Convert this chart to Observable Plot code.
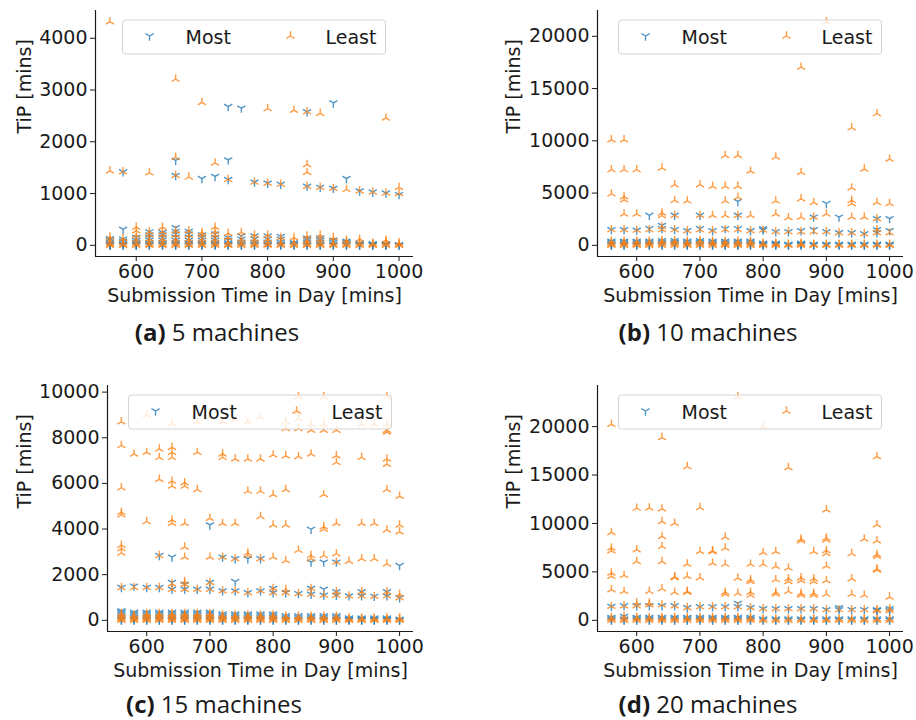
<!DOCTYPE html>
<html>
<head>
<meta charset="utf-8">
<script src="https://cdn.jsdelivr.net/npm/d3@7"></script>
<script src="https://cdn.jsdelivr.net/npm/@observablehq/plot@0.6"></script>
<style>
  body { margin: 0; background: #fff; }
  #fig { position: relative; width: 916px; height: 720px; overflow: hidden; }
  .panel { position: absolute; }
  .cap {
    position: absolute; font-family: "Open Sans", "Noto Sans", sans-serif; font-size: 24px; line-height: 1;
    color: #1a1a1a; transform: translate(-50%, -50%); white-space: nowrap;
  }
  .cap b { font-weight: 700; }
</style>
</head>
<body>
<div id="fig"></div>
<script>
// Submission times (minutes into the day) shared by every panel
const xs = [560, 580, 600, 620, 640, 660, 680, 700, 720, 740, 760, 780, 800,
            820, 840, 860, 880, 900, 920, 940, 960, 980, 1000];

// TiP values per submission time, one list per x above
const most5 = [
  [0, 10, 30, 60, 100, 130], [0, 15, 40, 80, 120, 310, 1420], [0, 10, 30, 60, 100, 150],
  [0, 20, 50, 100, 150, 200, 260], [0, 20, 50, 100, 150, 200, 250],
  [0, 20, 50, 100, 160, 220, 270, 340, 1350, 1640], [0, 20, 50, 100, 160, 220, 270],
  [0, 20, 50, 100, 150, 200, 1290], [0, 20, 50, 100, 150, 220, 1330],
  [0, 20, 50, 100, 150, 1270, 1650, 2680], [0, 20, 60, 120, 180, 2650], [0, 20, 60, 120, 180, 1220],
  [0, 20, 60, 120, 180, 1200], [0, 20, 60, 120, 170, 1180], [0, 20, 50],
  [0, 20, 60, 100, 140, 1140, 2580], [0, 20, 60, 100, 140, 1120], [0, 20, 60, 100, 1100, 2750],
  [0, 20, 50, 80, 1290], [0, 20, 40, 1050], [0, 15, 30, 1030], [0, 15, 30, 1010], [0, 10, 980]
];
const least5 = [
  [0, 20, 50, 100, 160, 1440, 4320], [0, 20, 60, 130, 1420], [0, 20, 60, 120, 200, 280, 350],
  [0, 20, 60, 120, 200, 260, 1400], [0, 20, 60, 120, 200, 260, 350],
  [0, 20, 60, 120, 200, 280, 1350, 1700, 3210], [0, 20, 60, 120, 200, 280, 1320],
  [0, 20, 60, 120, 200, 250, 2760], [0, 20, 60, 120, 200, 270, 350, 1590],
  [0, 20, 60, 150, 230, 1270], [0, 20, 60, 120, 250], [0, 20, 60, 120, 200, 1220],
  [0, 20, 60, 120, 200, 1200, 2640], [0, 20, 60, 150, 1180], [0, 20, 60, 150, 2610],
  [0, 20, 60, 100, 180, 1140, 1410, 1560, 2580], [0, 20, 60, 120, 200, 1120, 2550],
  [0, 20, 60, 150, 1100], [0, 20, 60, 100, 1080], [0, 20, 60, 120, 1050], [0, 20, 40, 1030],
  [0, 20, 60, 100, 1010, 2460], [0, 20, 50, 1000, 1120]
];

const most10 = [
  [0, 100, 250, 400, 1500], [0, 100, 250, 400, 1500], [0, 100, 250, 400, 1450], [0, 100, 250, 400, 1600, 2870],
  [0, 150, 300, 450, 1600, 1900], [0, 150, 300, 450, 1500, 2870], [0, 100, 250, 400, 1400],
  [0, 150, 300, 450, 1600, 2870], [0, 100, 250, 400, 1400], [0, 100, 250, 400, 1600],
  [0, 100, 250, 400, 1600, 2870, 4200], [0, 100, 250, 400, 1400], [0, 100, 200, 1450, 1600],
  [0, 100, 200, 1300], [0, 100, 1300], [0, 100, 200, 1400], [0, 100, 1500, 2700], [0, 100, 1300, 4000],
  [0, 100, 1200, 2700], [0, 100, 1200], [0, 100, 1100], [0, 100, 1200, 1500, 2550], [0, 100, 1400, 2550]
];
const least10 = [
  [0, 100, 250, 400, 1500, 4920, 7240, 10100], [0, 100, 250, 400, 1500, 3000, 4350, 4650, 7240, 10100],
  [0, 100, 250, 400, 1450, 3000, 7240], [0, 100, 250, 400, 1500], [0, 150, 300, 450, 1500, 1800, 2850, 3100, 7400],
  [0, 150, 300, 450, 1500, 2870, 4300, 5800], [0, 100, 250, 400, 1400, 4250], [0, 150, 300, 450, 1500, 2870, 5800],
  [0, 100, 250, 400, 1400, 2870, 5650], [0, 100, 250, 400, 1500, 2870, 4250, 5650, 8600],
  [0, 100, 250, 400, 1500, 2870, 4600, 5650, 8600], [0, 100, 250, 400, 1400, 2870, 7100], [0, 100, 200, 1450],
  [0, 100, 200, 1300, 3000, 4250, 8450], [0, 100, 1300, 2650], [0, 100, 200, 1300, 2700, 4450, 6980, 17050],
  [0, 100, 1300, 2700, 4100], [0, 100, 1300, 3000, 21400], [0, 100, 1200],
  [0, 100, 1200, 2700, 4000, 4300, 5500, 11250], [0, 100, 1100, 2700, 7300],
  [0, 100, 1200, 1500, 2550, 4100, 12600], [0, 100, 1200, 4000, 8250]
];

const most15 = [
  [0, 60, 130, 200, 280, 350, 420, 1440], [0, 60, 130, 200, 280, 350, 1500], [0, 60, 130, 200, 280, 350, 1440],
  [0, 60, 130, 200, 280, 350, 1440, 2840], [0, 60, 130, 200, 280, 350, 1360, 1660, 2770],
  [0, 60, 130, 200, 280, 350, 1360, 1580], [0, 60, 130, 200, 280, 350, 1360],
  [0, 60, 130, 200, 280, 350, 1360, 1660, 4180], [0, 60, 130, 200, 280, 1290, 2770],
  [0, 60, 130, 200, 280, 1290, 1700, 2700], [0, 60, 130, 200, 280, 1210, 2700], [0, 60, 130, 200, 280, 1290, 2700],
  [0, 60, 130, 200, 280, 1210, 1400], [0, 60, 130, 200, 1210], [0, 60, 130, 200, 1170],
  [0, 60, 130, 200, 1140, 1400, 2550, 3990], [0, 60, 130, 200, 1100, 1360, 2550], [0, 60, 130, 200, 1100, 1250, 2550],
  [0, 50, 100, 1070], [0, 50, 100, 1070, 1250], [0, 50, 100, 1050], [0, 50, 100, 1070, 1250], [0, 50, 990, 2400]
];
const least15 = [
  [0, 50, 110, 170, 240, 300, 1440, 2950, 3140, 3290, 4620, 4730, 5810, 7660, 8700],
  [0, 50, 110, 170, 240, 1440, 7290],
  [0, 50, 110, 170, 240, 300, 1440, 4330, 7360, 8990],
  [0, 50, 110, 170, 240, 300, 1440, 2840, 6180, 7140, 7510],
  [0, 50, 110, 170, 240, 300, 1360, 1600, 4250, 4400, 5880, 6100, 7140, 7360, 7580, 8620],
  [0, 50, 110, 170, 240, 300, 1360, 1580, 1700, 2770, 3210, 4250, 5880, 6030],
  [0, 50, 110, 170, 240, 300, 1360, 5730, 7360, 8700],
  [0, 50, 110, 170, 240, 300, 1360, 1660, 2770, 4470, 8920],
  [0, 50, 110, 170, 240, 1290, 2770, 4250, 7140, 7290, 8700],
  [0, 50, 110, 170, 240, 1290, 2700, 4250, 7070, 8800],
  [0, 50, 110, 170, 240, 1210, 2840, 2950, 5660, 7070, 8700],
  [0, 50, 110, 170, 240, 1290, 2700, 4550, 5660, 7070, 8900],
  [0, 50, 110, 170, 240, 1210, 1400, 2770, 4180, 5510, 7250],
  [0, 50, 120, 180, 1210, 1350, 2620, 4180, 5730, 7210, 8400, 8700],
  [0, 50, 120, 180, 1170, 3070, 7180, 8400, 8840, 9140, 9800],
  [0, 50, 120, 180, 1140, 1400, 2700, 2840, 7290, 8330, 8600],
  [0, 50, 120, 180, 1100, 2840, 3990, 4100, 5510, 8330, 8600, 9800],
  [0, 50, 120, 180, 1100, 1250, 2550, 2920, 4250, 6920, 7210, 8330],
  [0, 50, 100, 1070, 2590],
  [0, 50, 100, 1070, 1250, 2700, 4250, 7140, 8600],
  [0, 50, 100, 1050, 2700, 4250, 8600],
  [0, 50, 100, 1070, 1250, 2470, 3960, 5730, 6840, 7070, 8250, 8330, 8600, 9800],
  [0, 50, 100, 990, 1140, 3880, 4180, 5440]
];

const most20 = [
  [0, 150, 300, 1440], [0, 150, 400, 1500], [0, 150, 300, 1500], [0, 150, 300, 1500], [0, 150, 300, 1500],
  [0, 150, 300, 1500], [0, 150, 300, 1300], [0, 150, 300, 1400], [0, 150, 300, 1400], [0, 150, 300, 1400],
  [0, 150, 300, 1400, 1750], [0, 150, 300, 1300], [0, 150, 1200], [0, 150, 1200], [0, 150, 1200],
  [0, 150, 1200], [0, 150, 1200], [0, 150, 1100], [0, 150, 1100, 1300], [0, 150, 1100], [0, 150, 1100],
  [0, 150, 1000, 1100], [0, 150, 1000, 1200]
];
const least20 = [
  [0, 150, 300, 1440, 3160, 4540, 4880, 7180, 7460, 9070, 20240], [0, 150, 400, 1500, 2990, 4640],
  [0, 150, 300, 1500, 1800, 6080, 7290, 11580], [0, 150, 300, 1600, 1800, 3000, 11600],
  [0, 150, 300, 1600, 3260, 6080, 7630, 8660, 10210, 11510, 18870], [0, 150, 300, 1500, 2900, 4400, 4500, 10030],
  [0, 150, 300, 1300, 2900, 3000, 4540, 5810, 15880], [0, 150, 300, 1400, 4400, 7110, 11650],
  [0, 150, 300, 1400, 5910, 7100, 7180], [0, 150, 300, 1400, 2700, 2900, 5800, 7460, 8590],
  [0, 150, 300, 1400, 2800, 4360, 23090], [0, 150, 300, 1300, 2600, 2900, 4000, 4200, 5800],
  [0, 150, 1200, 5800, 7010, 20000], [0, 150, 1200, 2700, 2900, 4200, 5570, 7100],
  [0, 150, 1200, 3000, 4000, 4300, 5400, 15770], [0, 150, 1200, 2600, 2800, 4100, 4400, 8200, 8400],
  [0, 150, 1200, 2600, 2800, 4000, 4300, 7100], [0, 150, 1100, 2700, 4100, 5600, 6900, 7200, 8300, 8500, 11410],
  [0, 150, 1100], [0, 150, 1100, 2700, 4300, 6900], [0, 150, 1100, 2600, 8400],
  [0, 150, 1000, 1100, 5200, 5300, 6600, 6800, 8210, 9860, 16910], [0, 150, 1000, 1200, 2400]
];

const xTicks = [600, 700, 800, 900, 1000];
const yTicks5 = [0, 1000, 2000, 3000, 4000];
const yTicks10 = [0, 5000, 10000, 15000, 20000];
const yTicks15 = [0, 2000, 4000, 6000, 8000, 10000];
const yTicks20 = [0, 5000, 10000, 15000, 20000];

const seriesNames = ["Most", "Least"];
const captionTags = ["(a)", "(b)", "(c)", "(d)"];
const captionTexts = ["5 machines", "10 machines", "15 machines", "20 machines"];
const xLabel = "Submission Time in Day [mins]";
const yLabel = "TiP [mins]";

// Line-only tri markers (three spokes from the centre)
const S3 = Math.sqrt(3) / 2;
const triDown = {
  draw(ctx, size) {
    const r = Math.sqrt(size / Math.PI);
    ctx.moveTo(0, 0); ctx.lineTo(0, r);
    ctx.moveTo(0, 0); ctx.lineTo(r * S3, -r / 2);
    ctx.moveTo(0, 0); ctx.lineTo(-r * S3, -r / 2);
  }
};
const triUp = {
  draw(ctx, size) {
    const r = Math.sqrt(size / Math.PI);
    ctx.moveTo(0, 0); ctx.lineTo(0, -r);
    ctx.moveTo(0, 0); ctx.lineTo(r * S3, r / 2);
    ctx.moveTo(0, 0); ctx.lineTo(-r * S3, r / 2);
  }
};

const BLUE = "#1f77b4", ORANGE = "#ff7f0e", INK = "#1a1a1a";
const R = 4.7, SW = 1.4, ALPHA = 0.78;
const FONT = "DejaVu Sans, sans-serif";

function rows(lists) {
  return xs.flatMap((x, i) => lists[i].map(y => ({x, y})));
}

const panels = [
  {most: most5, least: least5, yTicks: yTicks5, left: 0, top: 0, ml: 95, mr: 45, ylab: 24},
  {most: most10, least: least10, yTicks: yTicks10, left: 458, top: 0, ml: 139, mr: 13, ylab: 55},
  {most: most15, least: least15, yTicks: yTicks15, left: 0, top: 375, ml: 107, mr: 45, ylab: 24},
  {most: most20, least: least20, yTicks: yTicks20, left: 458, top: 375, ml: 139, mr: 13, ylab: 55}
];
const captionPos = [[217, 332], [708, 332], [214, 704], [708, 704]];

const W = 458, H = 320, MT = 10, MB = 64;
const fig = document.getElementById("fig");

panels.forEach((p, k) => {
  const mostRows = rows(p.most), leastRows = rows(p.least);
  const allY = mostRows.concat(leastRows).map(d => d.y);
  const [y0, y1] = d3.extent(allY);
  const yPad = 0.05 * (y1 - y0);
  const xPad = 0.05 * (xs[xs.length - 1] - xs[0]);
  const xDom = [xs[0] - xPad, xs[xs.length - 1] + xPad];
  const yDom = [y0 - yPad, y1 + yPad];

  const chart = Plot.plot({
    width: W, height: H,
    marginLeft: p.ml, marginRight: p.mr, marginTop: MT, marginBottom: MB,
    style: {fontFamily: FONT, fontSize: "19px", color: INK, background: "transparent", overflow: "visible"},
    x: {domain: xDom},
    y: {domain: yDom},
    marks: [
      Plot.axisX({ticks: xTicks, tickFormat: d => `${d}`, tickSize: 5, tickPadding: 3, fontSize: 19, label: null}),
      Plot.axisY({ticks: p.yTicks, tickFormat: d => `${d}`, tickSize: 5, tickPadding: 3, fontSize: 19, label: null}),
      Plot.ruleX([xDom[0]], {stroke: INK, strokeWidth: 1.2}),
      Plot.ruleY([yDom[0]], {stroke: INK, strokeWidth: 1.2}),
      Plot.text([xLabel], {frameAnchor: "bottom", dy: 45, fontSize: 19, fill: INK}),
      Plot.text([yLabel], {frameAnchor: "left", dx: p.ylab - p.ml, rotate: -90, fontSize: 19, fill: INK}),
      Plot.dot(mostRows, {x: "x", y: "y", symbol: triDown, r: R, fill: "none", stroke: BLUE,
                          strokeWidth: SW, strokeOpacity: ALPHA}),
      Plot.dot(leastRows, {x: "x", y: "y", symbol: triUp, r: R, fill: "none", stroke: ORANGE,
                           strokeWidth: SW, strokeOpacity: ALPHA})
    ]
  });

  // Legend box at the top centre of the axes, drawn over the data
  const svg = d3.select(chart.tagName.toLowerCase() === "svg" ? chart : chart.querySelector("svg"));
  const cx = (p.ml + (W - p.mr)) / 2;
  const bw = 263, bh = 34, bx = cx - bw / 2, by = MT + 10;
  const g = svg.append("g").attr("text-anchor", "start");
  g.append("rect").attr("x", bx).attr("y", by).attr("width", bw).attr("height", bh)
    .attr("rx", 3).attr("fill", "#fff").attr("fill-opacity", 0.8)
    .attr("stroke", "#d4d4d4").attr("stroke-width", 1);
  const items = [
    {name: seriesNames[0], sym: triDown, color: BLUE, mx: 27, tx: 63},
    {name: seriesNames[1], sym: triUp, color: ORANGE, mx: 168, tx: 203}
  ];
  items.forEach(it => {
    g.append("path").attr("d", d3.symbol(it.sym, R * R * Math.PI)())
      .attr("transform", `translate(${bx + it.mx},${by + 16})`)
      .attr("fill", "none").attr("stroke", it.color).attr("stroke-width", SW).attr("stroke-opacity", ALPHA);
    g.append("text").attr("x", bx + it.tx).attr("y", by + 23.5).text(it.name)
      .attr("text-anchor", "start")
      .attr("font-family", FONT).attr("font-size", 19).attr("fill", INK);
  });

  const wrap = document.createElement("div");
  wrap.className = "panel";
  wrap.style.left = p.left + "px";
  wrap.style.top = p.top + "px";
  wrap.appendChild(chart);
  fig.appendChild(wrap);

  const cap = document.createElement("div");
  cap.className = "cap";
  cap.style.left = captionPos[k][0] + "px";
  cap.style.top = captionPos[k][1] + "px";
  cap.innerHTML = `<b>${captionTags[k]}</b> ${captionTexts[k]}`;
  fig.appendChild(cap);
});
</script>
</body>
</html>
